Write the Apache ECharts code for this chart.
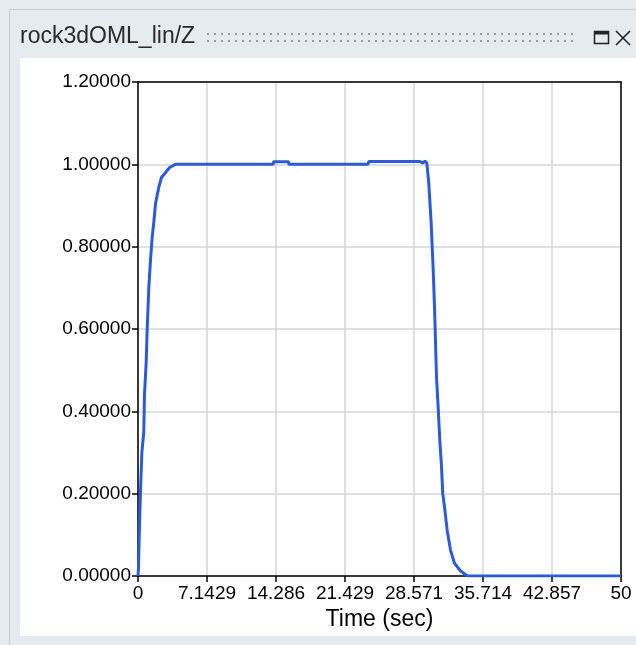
<!DOCTYPE html>
<html>
<head>
<meta charset="utf-8">
<script src="https://cdn.jsdelivr.net/npm/echarts@6/dist/echarts.min.js"></script>
<style>
html,body{margin:0;padding:0;background:#fff;}
#chart{width:636px;height:645px;}
</style>
</head>
<body>
<div id="chart"></div>
<script>
var panelTitle = 'rock3dOML_lin/Z';
var xAxisName = 'Time (sec)';
var xMin = 0, xMax = 50, xSteps = 7;
var yMin = 0, yMax = 1.2, yStep = 0.2;

var times = [0, 0.05, 0.12, 0.25, 0.4, 0.6, 0.67, 0.85, 0.95, 1.12, 1.29, 1.47, 1.64, 1.81, 2.15, 2.43, 2.85, 3.3, 3.88,
  12.9, 12.92, 12.95, 14.0, 14.02, 15.6, 15.62, 23.8, 23.9, 29.2, 29.5, 29.7, 29.9,
  29.95, 30.1, 30.35, 30.56, 30.7, 30.9, 31.08, 31.24, 31.4, 31.55, 31.73, 32.0, 32.35, 32.76, 33.4, 34.1, 50];
var values = [0, 0.02, 0.09, 0.2, 0.3, 0.35, 0.44, 0.52, 0.6, 0.70, 0.766, 0.823, 0.86, 0.904, 0.944, 0.968, 0.98, 0.993, 1.0,
  1.0, 0.996, 1.0, 1.0, 1.006, 1.006, 1.0, 1.0, 1.007, 1.007, 1.003, 1.008, 1.003,
  1.0, 0.955, 0.857, 0.743, 0.65, 0.484, 0.407, 0.33, 0.274, 0.2, 0.168, 0.112, 0.063, 0.031, 0.012, 0.0, 0.0];

var seriesData = times.map(function (t, i) { return [t, values[i]]; });

var chart = echarts.init(document.getElementById('chart'), null, {renderer: 'canvas'});
var font = 'Liberation Sans, Arial, sans-serif';

// dotted grip (decoration)
var grip = [];
for (var gx = 207; gx <= 577; gx += 7) {
  grip.push({type: 'rect', shape: {x: gx, y: 33, width: 2, height: 2}, style: {fill: '#949ca2'}});
  grip.push({type: 'rect', shape: {x: gx, y: 40, width: 2, height: 2}, style: {fill: '#949ca2'}});
}

var option = {
  animation: false,
  backgroundColor: '#e6ebef',
  graphic: [
    {type: 'rect', shape: {x: 9.5, y: 9.5, width: 640, height: 640}, style: {fill: '#e6ebef', stroke: '#c8cdd1', lineWidth: 1}, z: -10},
    {type: 'rect', shape: {x: 20, y: 58, width: 616, height: 578}, style: {fill: '#ffffff'}, z: -9},
    {type: 'text', left: 20, top: 25, style: {text: panelTitle, font: '23px ' + font, fill: '#2a2a2a'}},
    {type: 'rect', shape: {x: 594.5, y: 31.5, width: 14, height: 12}, style: {fill: 'none', stroke: '#222', lineWidth: 1.5}},
    {type: 'rect', shape: {x: 594.5, y: 31.5, width: 14, height: 3}, style: {fill: '#222'}},
    {type: 'line', shape: {x1: 616, y1: 31, x2: 630, y2: 45}, style: {stroke: '#222', lineWidth: 1.6}},
    {type: 'line', shape: {x1: 630, y1: 31, x2: 616, y2: 45}, style: {stroke: '#222', lineWidth: 1.6}}
  ].concat(grip),
  grid: {left: 138, right: 15, top: 82, bottom: 69},
  xAxis: [{
    type: 'value', min: xMin, max: xMax, interval: (xMax - xMin) / xSteps,
    name: xAxisName, nameLocation: 'middle', nameGap: 30,
    nameTextStyle: {fontFamily: font, fontSize: 23, color: '#000'},
    axisLine: {show: true, onZero: false, lineStyle: {color: '#000', width: 1.5}},
    axisTick: {show: true, length: 6, lineStyle: {color: '#000', width: 1.5}},
    axisLabel: {fontFamily: font, fontSize: 19, color: '#000', margin: 8,
      formatter: function (v) { return String(parseFloat(v.toPrecision(5))); }},
    splitLine: {show: true, lineStyle: {color: '#d6d6d6', width: 1.5}}
  }, {
    type: 'value', position: 'top', min: xMin, max: xMax,
    axisLine: {show: true, onZero: false, lineStyle: {color: '#000', width: 1.5}},
    axisTick: {show: false}, axisLabel: {show: false}, splitLine: {show: false}
  }],
  yAxis: [{
    type: 'value', min: yMin, max: yMax, interval: yStep,
    axisLine: {show: true, onZero: false, lineStyle: {color: '#000', width: 1.5}},
    axisTick: {show: true, length: 6, lineStyle: {color: '#000', width: 1.5}},
    axisLabel: {fontFamily: font, fontSize: 19, color: '#000', margin: 7,
      formatter: function (v) { return v.toFixed(5); }},
    splitLine: {show: true, lineStyle: {color: '#d6d6d6', width: 1.5}}
  }, {
    type: 'value', position: 'right', min: yMin, max: yMax,
    axisLine: {show: true, onZero: false, lineStyle: {color: '#000', width: 1.5}},
    axisTick: {show: false}, axisLabel: {show: false}, splitLine: {show: false}
  }],
  series: [{
    type: 'line', data: seriesData, showSymbol: false, symbol: 'none',
    lineStyle: {color: '#2b5bd6', width: 3}, z: 3
  }]
};
chart.setOption(option);
</script>
</body>
</html>
